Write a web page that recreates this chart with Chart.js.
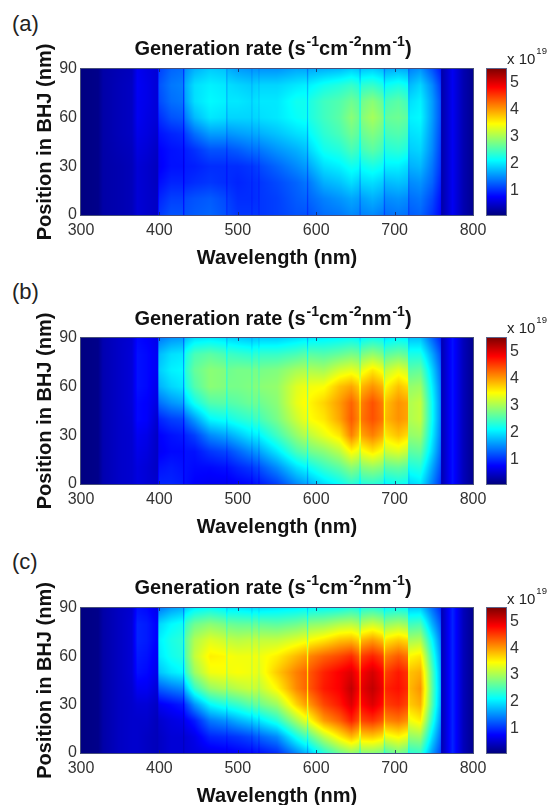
<!DOCTYPE html>
<html>
<head>
<meta charset="utf-8">
<title>Generation rate</title>
<script src="https://cdn.jsdelivr.net/npm/chart.js@4"></script>
<style>
html, body { margin: 0; padding: 0; background: #fff; }
body { position: relative; width: 548px; height: 805px; overflow: hidden; font-family: "Liberation Sans", Arial, sans-serif; color: #222; filter: blur(0.35px); }
canvas { position: absolute; }
.panelLabel { position: absolute; left: 12px; font-size: 22px; line-height: 24px; }
.chartTitle { position: absolute; left: 80px; width: 386px; text-align: center; font-size: 20px; font-weight: bold; line-height: 22px; color: #111; white-space: nowrap; }
.chartTitle sup { font-size: 14px; line-height: 0; position: relative; top: -1px; vertical-align: super; margin-left: 1px; }
.exponent { position: absolute; left: 507px; font-size: 15px; line-height: 18px; white-space: nowrap; }
.exponent sup { font-size: 9.5px; line-height: 0; vertical-align: 10px; margin-left: 1px; }
</style>
</head>
<body>
<script>
const wavelengths = [300,322,328,350,365,372,384,397.5,399.5,415,429.5,431,432.5,445,465,484.5,486,487.5,500,516.5,518,519.5,525.5,527,528.5,550,575,587.5,589,590.5,610,630,645,654.5,656,657.5,672,685.5,687,688.5,705,716.5,718,719.5,733,748,758.5,760,774,788,800];
const positions = [0,10,20,30,40,50,60,70,80,90];
const wavelengthTicks = [300,400,500,600,700,800];
const positionTicks = [0,30,60,90];
const colorbarTicks = [1,2,3,4,5];
const panelLabels = ["(a)", "(b)", "(c)"];

// one line per wavelength, position 0 to 90 nm, in units of 1e19
const generationA = [
[.1,.1,.1,.1,.1,.1,.1,.1,.1,.1],
[.15,.15,.15,.15,.15,.15,.15,.15,.15,.15],
[.3,.3,.3,.3,.3,.3,.3,.3,.3,.3],
[.35,.35,.35,.35,.38,.4,.4,.4,.4,.38],
[.4,.4,.4,.4,.42,.45,.45,.45,.45,.42],
[.55,.55,.55,.55,.6,.65,.7,.7,.72,.7],
[.5,.5,.5,.5,.55,.6,.62,.65,.65,.62],
[.45,.45,.42,.42,.45,.5,.55,.55,.55,.55],
[1.05,.95,.82,.72,.75,.85,1,1.15,1.2,1.1],
[1.2,1.1,.95,.85,.85,.95,1.2,1.35,1.4,1.3],
[1.2,1.1,.95,.85,.88,1,1.25,1.4,1.45,1.35],
[.85,.8,.7,.62,.65,.75,.9,1,1.05,.95],
[1.2,1.15,.95,.9,.92,1.1,1.4,1.6,1.65,1.5],
[1.25,1.2,1,.92,1.02,1.35,1.75,1.95,1.95,1.7],
[1.3,1.25,1.05,1,1.2,1.6,2,2.1,2.05,1.85],
[1.2,1.15,1,1,1.2,1.6,1.95,2.05,2,1.8],
[1,.95,.85,.85,1,1.35,1.6,1.7,1.65,1.5],
[1.15,1.1,1,1,1.2,1.55,1.9,2,1.95,1.7],
[1.05,1,.95,1,1.25,1.6,1.9,2,1.9,1.6],
[1.05,1,1,1.05,1.35,1.65,1.9,1.95,1.85,1.55],
[.95,.92,.92,.98,1.25,1.52,1.75,1.8,1.7,1.42],
[1.05,1,1,1.05,1.35,1.65,1.9,1.95,1.85,1.55],
[1.05,1.02,1.02,1.1,1.38,1.68,1.92,1.98,1.88,1.55],
[.95,.92,.92,1,1.25,1.55,1.8,1.85,1.75,1.45],
[1.05,1.05,1.05,1.15,1.4,1.7,1.95,2,1.9,1.55],
[1.1,1.1,1.15,1.3,1.55,1.8,2,2,1.9,1.55],
[1.2,1.25,1.3,1.5,1.7,1.95,2.15,2.2,2,1.65],
[1.2,1.3,1.4,1.6,1.8,2,2.2,2.2,2.05,1.65],
[1,1.05,1.15,1.3,1.5,1.65,1.8,1.8,1.7,1.35],
[1.2,1.3,1.4,1.65,1.9,2.1,2.25,2.25,2.05,1.65],
[1.35,1.45,1.7,1.95,2.2,2.35,2.45,2.45,2.2,1.7],
[1.4,1.55,1.8,2.05,2.3,2.5,2.6,2.55,2.3,1.75],
[1.5,1.65,1.95,2.2,2.5,2.7,2.85,2.7,2.4,1.85],
[1.45,1.6,1.85,2.15,2.4,2.6,2.7,2.6,2.3,1.8],
[1.2,1.35,1.55,1.8,2,2.15,2.25,2.15,1.95,1.5],
[1.45,1.6,1.9,2.15,2.45,2.65,2.8,2.7,2.35,1.8],
[1.5,1.7,1.95,2.25,2.6,2.8,3,2.85,2.4,1.85],
[1.4,1.6,1.85,2.15,2.45,2.65,2.8,2.65,2.25,1.75],
[1.1,1.25,1.45,1.7,1.9,2.05,2.15,2.05,1.8,1.35],
[1.35,1.5,1.75,2.05,2.3,2.5,2.65,2.5,2.15,1.65],
[1.4,1.55,1.8,2.05,2.35,2.55,2.7,2.6,2.25,1.7],
[1.35,1.5,1.75,1.95,2.25,2.45,2.6,2.45,2.15,1.65],
[1.05,1.15,1.3,1.5,1.65,1.75,1.85,1.75,1.6,1.25],
[1.25,1.35,1.5,1.7,1.85,1.95,2.05,1.95,1.75,1.45],
[1.3,1.4,1.55,1.75,1.9,2,2.1,2.05,1.9,1.55],
[1.05,1.15,1.3,1.4,1.5,1.55,1.6,1.6,1.5,1.2],
[.8,.85,.95,1.05,1.1,1.15,1.2,1.2,1.1,.9],
[.3,.3,.3,.3,.3,.3,.3,.3,.3,.3],
[.7,.7,.7,.7,.7,.7,.7,.7,.7,.7],
[.35,.35,.35,.35,.35,.35,.35,.35,.35,.35],
[.18,.18,.18,.18,.18,.18,.18,.18,.18,.18]
];

const generationB = [
[.1,.1,.1,.1,.1,.1,.1,.1,.1,.1],
[.15,.15,.15,.15,.15,.15,.15,.15,.15,.15],
[.35,.35,.35,.35,.35,.35,.35,.35,.35,.35],
[.48,.48,.48,.48,.48,.48,.48,.48,.48,.48],
[.52,.52,.52,.52,.54,.56,.56,.56,.56,.54],
[.6,.6,.65,.7,.8,.8,.85,.85,.85,.8],
[.55,.55,.6,.65,.75,.75,.8,.8,.8,.75],
[.5,.45,.45,.45,.5,.6,.65,.7,.7,.65],
[.95,.85,.72,.75,.95,1.35,1.7,1.85,1.75,1.4],
[.95,.9,.8,.85,1.1,1.55,1.9,2.05,1.95,1.55],
[.9,.85,.8,.9,1.15,1.65,2,2.1,2,1.6],
[.65,.65,.6,.65,.85,1.2,1.45,1.55,1.45,1.2],
[.85,.85,.85,.95,1.3,1.85,2.2,2.3,2.2,1.75],
[.75,.8,.85,1.1,1.6,2.2,2.55,2.65,2.5,1.95],
[.7,.8,1.05,1.5,2.1,2.55,2.85,2.85,2.6,2],
[.7,.85,1.15,1.65,2.2,2.6,2.8,2.8,2.5,1.95],
[.62,.75,1,1.45,1.9,2.2,2.35,2.35,2.1,1.65],
[.7,.85,1.15,1.65,2.2,2.55,2.75,2.7,2.45,1.9],
[.75,.95,1.3,1.8,2.3,2.6,2.75,2.75,2.4,1.85],
[.8,1.05,1.5,2,2.4,2.7,2.8,2.75,2.35,1.8],
[.72,.95,1.35,1.82,2.2,2.45,2.55,2.5,2.15,1.65],
[.82,1.08,1.52,2,2.42,2.7,2.8,2.75,2.35,1.8],
[.88,1.15,1.6,2.05,2.48,2.7,2.82,2.75,2.38,1.82],
[.75,1,1.4,1.85,2.25,2.45,2.6,2.5,2.2,1.7],
[.9,1.2,1.65,2.1,2.5,2.7,2.85,2.75,2.4,1.85],
[1.1,1.5,2,2.45,2.75,2.85,2.9,2.8,2.4,1.85],
[1.5,1.95,2.5,2.9,3.2,3.35,3.3,3,2.5,1.95],
[1.65,2.1,2.65,3.1,3.4,3.5,3.4,3.05,2.6,2],
[1.4,1.8,2.25,2.6,2.85,2.9,2.8,2.55,2.15,1.65],
[1.7,2.15,2.7,3.1,3.45,3.5,3.4,3.05,2.6,2],
[1.95,2.4,2.85,3.35,3.6,3.7,3.45,3,2.55,2.05],
[2.15,2.6,3.1,3.6,3.95,4,3.8,3.25,2.65,2.1],
[2.35,2.85,3.5,4.15,4.35,4.3,3.95,3.35,2.75,2.15],
[2.25,2.75,3.35,3.85,4.1,4.05,3.75,3.25,2.7,2.1],
[1.95,2.4,2.9,3.3,3.55,3.55,3.3,2.85,2.35,1.85],
[2.3,2.8,3.4,3.95,4.2,4.15,3.85,3.35,2.75,2.1],
[2.35,2.9,3.6,4.15,4.4,4.4,4.05,3.6,2.9,2.2],
[2.25,2.8,3.4,3.9,4.2,4.15,3.85,3.4,2.75,2.15],
[1.9,2.3,2.85,3.25,3.4,3.4,3.15,2.8,2.3,1.8],
[2.1,2.6,3.2,3.6,3.85,3.8,3.5,3.15,2.6,2],
[2.2,2.65,3.3,3.8,4.05,4.05,3.8,3.35,2.7,2.1],
[2.15,2.55,3.15,3.65,3.95,3.95,3.65,3.2,2.6,2.05],
[1.7,2,2.45,2.8,3,3.05,2.85,2.5,2.05,1.65],
[1.9,2.25,2.6,2.9,3.05,3.05,2.9,2.6,2.25,1.8],
[2,2.3,2.65,2.95,3.15,3.15,2.95,2.65,2.25,1.8],
[1.45,1.65,1.9,2.05,2.15,2.15,2.05,1.9,1.65,1.3],
[1.05,1.2,1.35,1.45,1.5,1.5,1.45,1.35,1.2,.95],
[.35,.35,.35,.35,.35,.35,.35,.35,.35,.35],
[.85,.85,.85,.85,.85,.85,.85,.85,.85,.85],
[.4,.4,.4,.4,.4,.4,.4,.4,.4,.4],
[.18,.18,.18,.18,.18,.18,.18,.18,.18,.18]
];

const generationC = [
[.1,.1,.1,.1,.1,.1,.1,.1,.1,.1],
[.15,.15,.15,.15,.15,.15,.15,.15,.15,.15],
[.3,.3,.3,.3,.3,.3,.3,.3,.3,.3],
[.45,.45,.45,.45,.45,.45,.45,.45,.45,.45],
[.5,.5,.5,.5,.52,.55,.55,.55,.55,.52],
[.5,.5,.5,.55,.7,.85,.9,.95,.95,.85],
[.45,.45,.5,.55,.7,.8,.85,.9,.9,.8],
[.4,.4,.4,.45,.55,.65,.7,.75,.75,.65],
[.45,.45,.5,.7,1.25,1.8,2,2.05,1.9,1.4],
[.55,.55,.6,.8,1.4,2,2.2,2.25,2.1,1.6],
[.55,.55,.65,.9,1.5,2.1,2.3,2.35,2.2,1.7],
[.42,.42,.5,.7,1.15,1.6,1.75,1.8,1.7,1.3],
[.55,.55,.7,1.05,1.75,2.35,2.55,2.6,2.4,1.85],
[.6,.65,.9,1.55,2.4,2.95,3.15,3.05,2.7,2.05],
[.65,.95,1.4,2.1,2.9,3.4,3.55,3.3,2.85,2.15],
[.7,1,1.55,2.3,3.05,3.45,3.5,3.2,2.75,2.05],
[.62,.9,1.35,2,2.65,3,3.05,2.8,2.4,1.8],
[.7,1,1.55,2.3,3,3.4,3.45,3.15,2.7,2],
[.75,1.05,1.7,2.4,3.1,3.45,3.4,3.1,2.65,2],
[.8,1.15,1.85,2.6,3.2,3.4,3.4,3.15,2.65,1.95],
[.72,1.05,1.7,2.35,2.9,3.1,3.1,2.85,2.4,1.8],
[.8,1.18,1.88,2.62,3.2,3.4,3.4,3.15,2.65,1.95],
[.85,1.27,1.97,2.68,3.15,3.35,3.4,3.15,2.65,1.95],
[.75,1.1,1.75,2.4,2.95,3.15,3.15,2.9,2.4,1.85],
[.85,1.3,2,2.7,3.15,3.35,3.4,3.15,2.65,1.95],
[1,1.5,2.3,2.95,3.5,3.75,3.55,3.15,2.6,2],
[1.5,2.2,3,3.7,4.1,4.15,3.85,3.3,2.7,2.05],
[1.75,2.5,3.35,4,4.3,4.3,4,3.4,2.8,2.1],
[1.5,2.15,2.85,3.35,3.6,3.6,3.35,2.85,2.35,1.8],
[1.8,2.55,3.4,4,4.35,4.35,4.1,3.45,2.85,2.1],
[2.3,3.1,4,4.45,4.7,4.65,4.3,3.6,2.9,2.15],
[2.7,3.55,4.3,4.7,4.85,4.85,4.45,3.8,3.05,2.2],
[2.9,3.85,4.65,5,5.15,5,4.6,3.85,3.1,2.3],
[2.8,3.65,4.4,4.7,4.85,4.75,4.35,3.7,3,2.25],
[2.35,3.05,3.65,3.95,4.05,4,3.7,3.2,2.55,1.95],
[2.85,3.7,4.45,4.8,4.95,4.85,4.5,3.85,3.05,2.3],
[2.85,3.75,4.55,5,5.15,5.05,4.65,4,3.2,2.35],
[2.75,3.6,4.35,4.75,4.9,4.8,4.45,3.8,3.05,2.25],
[2.3,2.95,3.65,4,4.1,4,3.7,3.2,2.6,1.95],
[2.55,3.35,4.1,4.5,4.65,4.5,4.15,3.6,2.9,2.15],
[2.75,3.5,4.2,4.6,4.75,4.7,4.35,3.75,3,2.2],
[2.6,3.35,4.05,4.45,4.6,4.55,4.2,3.65,2.9,2.15],
[2.05,2.65,3.15,3.45,3.55,3.5,3.25,2.85,2.3,1.75],
[2.35,2.9,3.4,3.75,3.85,3.8,3.5,3,2.45,1.85],
[2.4,2.95,3.55,3.9,4.05,3.9,3.6,3.05,2.5,1.85],
[1.6,1.95,2.3,2.55,2.6,2.55,2.35,2.1,1.7,1.35],
[1.15,1.35,1.55,1.7,1.75,1.7,1.6,1.45,1.25,1],
[.35,.35,.35,.35,.35,.35,.35,.35,.35,.35],
[.95,.95,.95,.95,.95,.95,.95,.95,.95,.95],
[.4,.4,.4,.4,.4,.4,.4,.4,.4,.4],
[.18,.18,.18,.18,.18,.18,.18,.18,.18,.18]
];

const colorMin = 0.09;
const colorMax = 5.5;

function jetColor(value) {
    const t = Math.min(1, Math.max(0, (value - colorMin) / (colorMax - colorMin)));
    const ramp = c => Math.round(255 * Math.min(1, Math.max(0, 1.5 - Math.abs(4 * t - c))));
    return `rgb(${ramp(3)},${ramp(2)},${ramp(1)})`;
}

function bracket(list, value) {
    let i = 0;
    while (i < list.length - 2 && list[i + 1] < value) i++;
    return [i, (value - list[i]) / (list[i + 1] - list[i])];
}

// paints the grid like MATLAB "shading interp", one device pixel at a time
const heatmapPlugin = {
    id: "heatmap",
    beforeDatasetsDraw(chart) {
        const grid = chart.options.plugins.heatmap.grid;
        const { ctx, chartArea: area, scales } = chart;
        ctx.save();
        for (let px = area.left; px < area.right; px++) {
            const wl = Math.min(800, Math.max(300, scales.x.getValueForPixel(px + 0.5)));
            const [i, fx] = bracket(wavelengths, wl);
            for (let py = area.top; py < area.bottom; py++) {
                const pos = Math.min(90, Math.max(0, scales.y.getValueForPixel(py + 0.5)));
                const [j, fy] = bracket(positions, pos);
                const low = grid[i][j] * (1 - fx) + grid[i + 1][j] * fx;
                const high = grid[i][j + 1] * (1 - fx) + grid[i + 1][j + 1] * fx;
                ctx.fillStyle = jetColor(low * (1 - fy) + high * fy);
                ctx.fillRect(px, py, 1, 1);
            }
        }
        ctx.restore();
    },
    afterDatasetsDraw(chart) {
        const { ctx, chartArea: area, scales } = chart;
        ctx.save();
        ctx.strokeStyle = "rgba(25,35,90,0.8)";
        ctx.lineWidth = 1;
        ctx.strokeRect(area.left - 0.5, area.top - 0.5, area.width + 1, area.height + 1);
        wavelengthTicks.slice(1, -1).forEach(w => {
            const px = Math.round(scales.x.getPixelForValue(w)) + 0.5;
            ctx.beginPath();
            ctx.moveTo(px, area.top);
            ctx.lineTo(px, area.top + 3);
            ctx.moveTo(px, area.bottom);
            ctx.lineTo(px, area.bottom - 3);
            ctx.stroke();
        });
        ctx.restore();
    }
};

const colorbarPlugin = {
    id: "colorbar",
    beforeDatasetsDraw(chart) {
        const { ctx, chartArea: area, scales } = chart;
        ctx.save();
        for (let py = area.top; py < area.bottom; py++) {
            ctx.fillStyle = jetColor(scales.y.getValueForPixel(py + 0.5));
            ctx.fillRect(area.left, py, area.width, 1);
        }
        ctx.strokeStyle = "rgba(25,35,90,0.7)";
        ctx.strokeRect(area.left - 0.5, area.top - 0.5, area.width + 1, area.height + 1);
        ctx.restore();
    }
};

function addCanvas(left, top, width, height) {
    const canvas = document.createElement("canvas");
    canvas.width = width;
    canvas.height = height;
    canvas.style.left = left + "px";
    canvas.style.top = top + "px";
    document.body.appendChild(canvas);
    return canvas;
}

function addText(className, top, html) {
    const div = document.createElement("div");
    div.className = className;
    div.style.top = top + "px";
    div.innerHTML = html;
    document.body.appendChild(div);
}

function drawPanel(grid, plotTop, plotBottom, label, labelTop, titleTop, expTop) {
    const tickFont = { family: "Liberation Sans", size: 16 };
    const titleFont = { family: "Liberation Sans", size: 20, weight: "bold" };
    const cells = [];
    wavelengths.forEach((w, i) => positions.forEach((p, j) => cells.push({ x: w, y: p, v: grid[i][j] })));

    const canvasTop = plotTop - 30;
    new Chart(addCanvas(0, canvasTop, 490, plotBottom - plotTop + 90), {
        type: "scatter",
        data: { datasets: [{ data: cells, pointRadius: 0, pointHoverRadius: 0 }] },
        plugins: [heatmapPlugin],
        options: {
            responsive: false,
            animation: false,
            events: [],
            layout: { padding: { top: 30, right: 17, left: 0, bottom: 0 } },
            plugins: { legend: { display: false }, tooltip: { enabled: false }, heatmap: { grid: grid } },
            scales: {
                x: {
                    type: "linear", min: 300, max: 800,
                    afterFit: s => { s.height = 60; s.paddingLeft = 0; s.paddingRight = 0; },
                    afterBuildTicks: s => { s.ticks = wavelengthTicks.map(v => ({ value: v })); },
                    grid: { display: false, drawTicks: false },
                    border: { display: false },
                    ticks: { font: tickFont, color: "#333", padding: 6, maxRotation: 0, autoSkip: false },
                    title: { display: true, text: "Wavelength (nm)", font: titleFont, color: "#111", padding: { top: 0, bottom: 5 } }
                },
                y: {
                    type: "linear", min: 0, max: 90,
                    afterFit: s => { s.width = 81; s.paddingTop = 0; s.paddingBottom = 0; },
                    afterBuildTicks: s => { s.ticks = positionTicks.map(v => ({ value: v })); },
                    grid: { display: false, drawTicks: false },
                    border: { display: false },
                    ticks: { font: tickFont, color: "#333", padding: 4, autoSkip: false },
                    title: { display: true, text: "Position in BHJ (nm)", font: titleFont, color: "#111", padding: { top: 33, bottom: 0 } }
                }
            }
        }
    });

    new Chart(addCanvas(480, canvasTop, 68, plotBottom - plotTop + 90), {
        type: "scatter",
        data: { datasets: [{ data: [] }] },
        plugins: [colorbarPlugin],
        options: {
            responsive: false,
            animation: false,
            events: [],
            layout: { padding: { top: 30, left: 7, right: 0, bottom: 60 } },
            plugins: { legend: { display: false }, tooltip: { enabled: false } },
            scales: {
                x: { display: false, min: 0, max: 1 },
                y: {
                    type: "linear", position: "right", min: colorMin, max: colorMax,
                    afterFit: s => { s.width = 42; s.paddingTop = 0; s.paddingBottom = 0; },
                    afterBuildTicks: s => { s.ticks = colorbarTicks.map(v => ({ value: v })); },
                    grid: { display: false, drawTicks: false },
                    border: { display: false },
                    ticks: { font: tickFont, color: "#333", padding: 4, autoSkip: false }
                }
            }
        }
    });

    addText("panelLabel", labelTop, label);
    addText("chartTitle", titleTop, "Generation rate (s<sup>-1</sup>cm<sup>-2</sup>nm<sup>-1</sup>)");
    addText("exponent", expTop, "x 10<sup>19</sup>");
}

drawPanel(generationA, 69, 215, panelLabels[0], 12, 37, 50);
drawPanel(generationB, 338, 484, panelLabels[1], 280, 307, 319);
drawPanel(generationC, 608, 753, panelLabels[2], 550, 576, 590);
</script>
</body>
</html>
